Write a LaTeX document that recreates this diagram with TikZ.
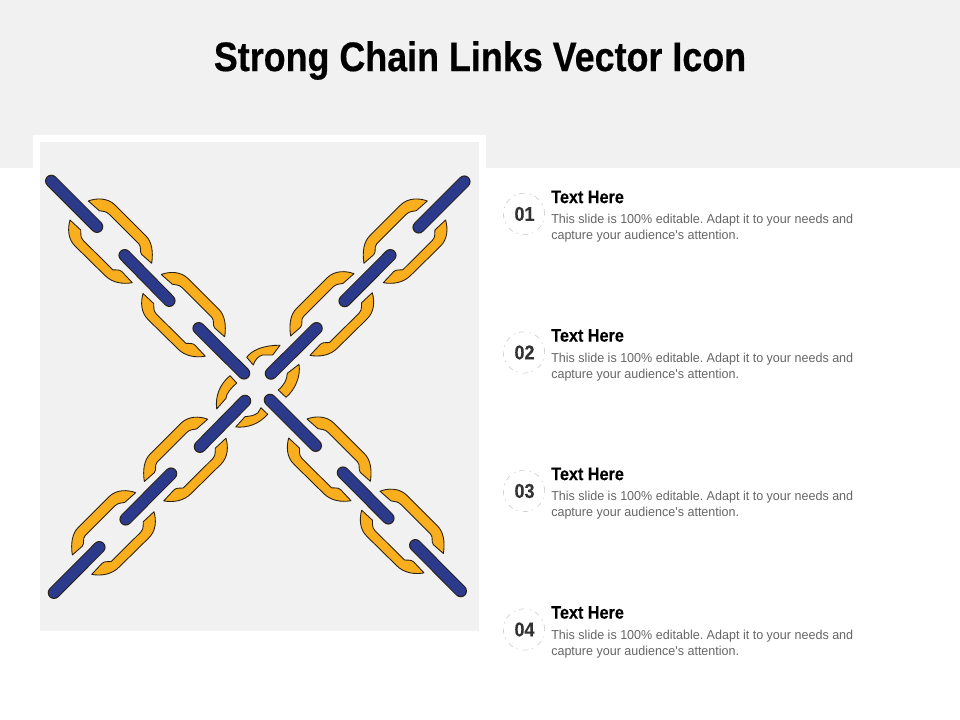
\documentclass[tikz,border=0pt]{standalone}
\usepackage{fontspec}
\newfontfamily\titlefont[FakeStretch=0.868,FakeBold=0.4]{Liberation Sans Bold}
\newfontfamily\headfont[FakeStretch=0.90,FakeBold=0.2]{Liberation Sans Bold}
\newfontfamily\bodyfont[FakeStretch=0.97]{Liberation Sans}
\definecolor{bandgray}{HTML}{F1F1F1}
\definecolor{linkorange}{HTML}{F9AE1D}
\definecolor{barblue}{HTML}{2C3A8C}
\definecolor{edgedark}{HTML}{2A2010}
\definecolor{bodygray}{HTML}{666666}
\definecolor{ringgray}{HTML}{CFCFCF}
\tikzset{
  linkpart/.style={fill=linkorange,draw=edgedark,line width=0.65pt,line join=round},
  barout/.style={line cap=round,line width=9.4pt,draw=edgedark},
  barin/.style={line cap=round,line width=8.0pt,draw=barblue},
  numring/.style={circle,minimum size=31pt,inner sep=0pt,draw=ringgray,line width=0.5pt,dash pattern=on 4pt off 3pt on 1pt off 4pt},
  numtext/.style={font=\headfont\fontsize{15}{15}\selectfont,text=black!80,inner sep=0pt},
  headtext/.style={font=\headfont\fontsize{13.5}{15}\selectfont,text=black,anchor=west,inner sep=0pt},
  bodytext/.style={font=\bodyfont\frenchspacing\fontsize{9.7}{12}\selectfont,text=bodygray,anchor=west,inner sep=0pt},
}
\newcommand{\chainlink}{%
  \draw[linkpart] (88.3,201) .. controls (96,198) and (107.5,197.5) .. (115,205)
    -- (146,236) .. controls (151.5,241.5) and (153.5,251) .. (151.7,263.3)
    -- (141.7,254.5) .. controls (139,251) and (142,247.5) .. (138.8,243.8)
    -- (109.5,214.5) .. controls (106,211) and (103,211.5) .. (99.3,210.7) -- cycle;
  \draw[linkpart] (70,220) .. controls (67.5,229) and (68,239) .. (75,246)
    -- (105,275.5) .. controls (112,282.5) and (122,284.5) .. (132.3,282.7)
    -- (122,271.7) .. controls (119,269) and (116.5,270.5) .. (112.8,269.8)
    -- (83.3,240.5) .. controls (79.5,236.5) and (81.5,233) .. (80.7,230) -- cycle;
}
\newcommand{\chainbar}[4]{%
  \draw[barout] (#1,#2) -- (#3,#4);
  \draw[barin] (#1,#2) -- (#3,#4);
}
\newcommand{\infoitem}[5]{%
  \node[numring] (ring#1) at (524,#2) {};
  \node[numtext] (num#1) at (524.5,#2) {#1};
  \node[headtext] (head#1) at (551,#3) {Text Here};
  \node[bodytext] (bodya#1) at (551,#4) {This slide is 100\% editable. Adapt it to your needs and};
  \node[bodytext] (bodyb#1) at (551,#5) {capture your audience's attention.};
}
\begin{document}
\begin{tikzpicture}[x=0.75pt,y=-0.75pt]
\useasboundingbox (0,0) rectangle (960,720);
\fill[bandgray] (0,0) rectangle (960,168);
\fill[white] (33,135) rectangle (486,638);
\fill[bandgray] (40,142) rectangle (479,631);
\node[font=\titlefont\fontsize{31}{34}\selectfont,text=black,inner sep=0pt] (title) at (480,60.5) {Strong Chain Links Vector Icon};
% chain links: north-west and south-east arms
\begin{scope}\chainlink\end{scope}
\begin{scope}[shift={(73,73.5)}]\chainlink\end{scope}
\begin{scope}[shift={(218.7,218)}]\chainlink\end{scope}
\begin{scope}[shift={(291.7,290.2)}]\chainlink\end{scope}
% north-east and south-west arms
\begin{scope}[shift={(515.6,0)},xscale=-1]\chainlink\end{scope}
\begin{scope}[shift={(442.3,72.7)},xscale=-1]\chainlink\end{scope}
\begin{scope}[shift={(296,218.2)},xscale=-1]\chainlink\end{scope}
\begin{scope}[shift={(224,291.7)},xscale=-1]\chainlink\end{scope}
% centre ring
\draw[linkpart] (246.7,357.3) .. controls (252,350) and (264,345) .. (280,345.3)
  -- (272.7,355) -- (262.7,355) .. controls (258,356) and (255,360) .. (253.3,365) -- cycle;
\draw[linkpart] (299,364.3) .. controls (301,376) and (295,390) .. (286,397.3)
  -- (278.3,390) .. controls (284,385) and (287,380) .. (287.3,373.3) -- cycle;
\draw[linkpart] (230,375.7) -- (236.7,383) .. controls (231,388) and (226,394) .. (226,398.3)
  -- (216.7,409) .. controls (215,396) and (220,384) .. (230,375.7) -- cycle;
\draw[linkpart] (267.7,414.3) -- (261,407.7) -- (258,412.7) .. controls (254,416) and (250,416) .. (245,416.7)
  -- (235.7,427) .. controls (248,428) and (259,424) .. (267.7,414.3) -- cycle;
% bars
\chainbar{51.3}{181}{97}{226.7}
\chainbar{124.7}{255.3}{169.3}{300.7}
\chainbar{198.7}{328.3}{244}{373.3}
\chainbar{464.3}{181.7}{418.7}{227.3}
\chainbar{390.3}{255.3}{344.7}{301}
\chainbar{316.5}{328.3}{271}{373.5}
\chainbar{245}{401}{200}{446.7}
\chainbar{171}{473.7}{125.7}{519.3}
\chainbar{99.3}{547.3}{54}{592.7}
\chainbar{270}{400}{315.7}{445.7}
\chainbar{343}{472.7}{388.3}{518.3}
\chainbar{415.3}{545.3}{460.7}{591}
% right column
\infoitem{01}{214}{197}{220.5}{236.5}
\infoitem{02}{352.5}{335.5}{359}{375}
\infoitem{03}{491}{474}{497.5}{513.5}
\infoitem{04}{629.5}{612.5}{636}{652}
\end{tikzpicture}
\end{document}
